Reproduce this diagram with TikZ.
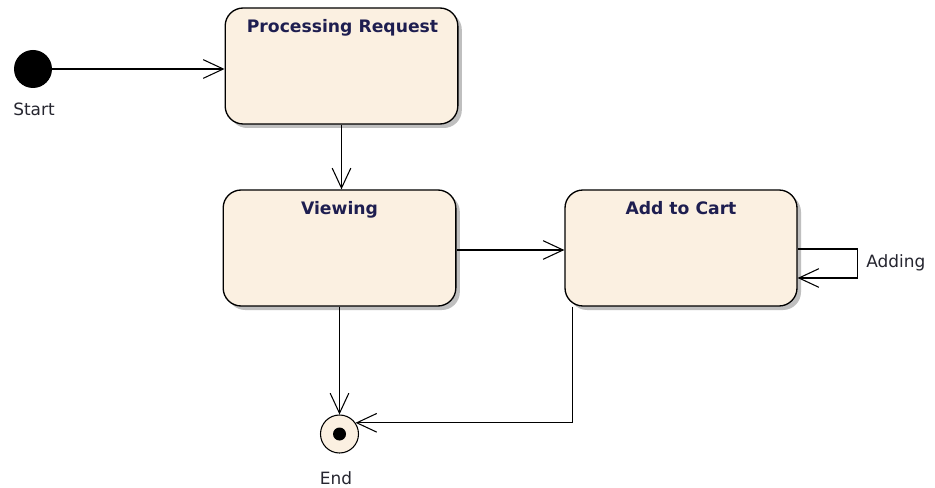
\documentclass[tikz,border=0pt]{standalone}
\usepackage{fontspec}
\setmainfont{DejaVu Sans}
\usetikzlibrary{arrows.meta,shadows,calc}
\definecolor{statefill}{HTML}{FBF0E1}
\definecolor{titlecol}{HTML}{1E1E50}
\definecolor{labelcol}{HTML}{262630}
\tikzset{
  statebox/.style={draw=black, line width=1pt, fill=statefill, rounded corners=13.5pt,
    minimum width=174.5pt, minimum height=87pt, inner sep=0pt,
    drop shadow={shadow xshift=3pt, shadow yshift=-3pt, fill=black!25, opacity=1}},
  statetitle/.style={anchor=base, text=titlecol, inner sep=0pt,
    font=\bfseries\fontsize{12.9pt}{15pt}\selectfont},
  plainlabel/.style={anchor=base, text=labelcol, inner sep=0pt,
    font=\fontsize{12.7pt}{15pt}\selectfont},
  arr/.style={draw=black, line width=0.8pt, -{Straight Barb[length=15pt,width=14pt,line width=0.8pt]}},
  initstate/.style={circle, fill=black, minimum size=28.5pt, inner sep=0pt},
  finalstate/.style={circle, draw=black, line width=0.8pt, fill=statefill, minimum size=28.5pt, inner sep=0pt},
  finaldot/.style={circle, fill=black, minimum size=9.75pt, inner sep=0pt}
}
\begin{document}
\begin{tikzpicture}[x=0.75pt, y=-0.75pt]
\useasboundingbox[fill=white] (0,0) rectangle (935,488);
% nodes
\node[initstate] (start) at (33,69) {};
\node[plainlabel] (startlbl) at (34,116) {Start};
\node[statebox] (pr) at (341.5,66) {};
\node[statetitle] (prt) at (342.5,33) {Processing Request};
\node[statebox] (view) at (339.5,248) {};
\node[statetitle] (viewt) at (339.5,215) {Viewing};
\node[statebox, minimum width=174pt] (cart) at (681,248) {};
\node[statetitle] (cartt) at (681,215) {Add to Cart};
\node[finalstate] (end) at (339.5,434) {};
\node[finaldot] (enddot) at (end) {};
\node[plainlabel] (endlbl) at (336,484) {End};
\node[plainlabel, anchor=base west] (addlbl) at (866,268) {Adding};
% connectors
\draw[arr] (start.east) -- (pr.west |- start.east);
\draw[arr] (pr.south) -- (pr.south |- view.north);
\draw[arr] ($(view.east)+(0,2)$) -- ($(cart.west)+(0,2)$);
\draw[arr] (view.south) -- (view.south |- end.north);
\draw[arr] ($(cart.south west)+(8,0)$) |- (end.35);
\draw[arr] ($(cart.east)+(0,1)$) -- ++(60,0) |- ($(cart.east)+(0,30)$);
\end{tikzpicture}
\end{document}
